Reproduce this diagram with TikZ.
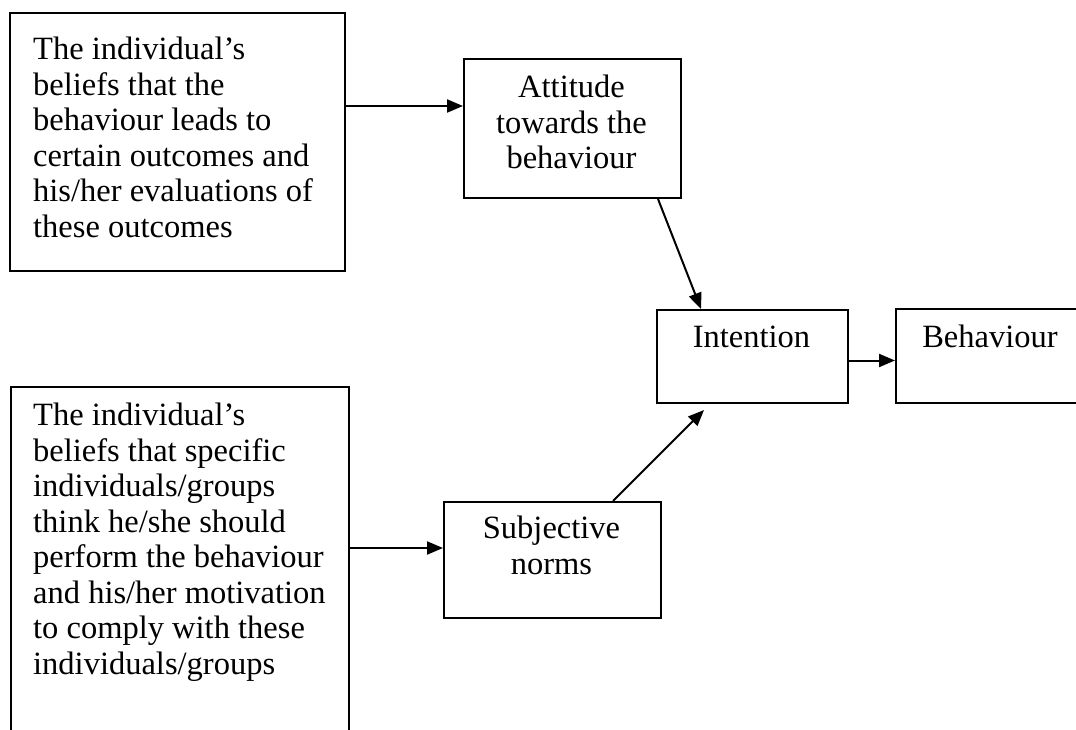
\documentclass[tikz,border=0pt]{standalone}
\usepackage{fontspec}
\setmainfont{Liberation Serif}
\usepackage{tikz}
\usetikzlibrary{arrows.meta}

\newcommand{\diagfont}{\fontsize{32.5}{35.5}\selectfont}

\tikzset{
    box/.style={draw, line width=2pt, anchor=north west, inner sep=0pt},
    txt/.style={inner sep=0pt, font=\diagfont, align=left, anchor=north west},
    ctxt/.style={inner sep=0pt, font=\diagfont, align=center, anchor=north},
    arrow/.style={-{Triangle[length=16pt,width=13pt]}, line width=2pt}
}

\begin{document}
\begin{tikzpicture}[x=1pt, y=-1pt]

    \useasboundingbox (0,0) rectangle (1076,730);

    % boxes
    \node[box, minimum width=335pt, minimum height=258pt] (beliefA) at (9,12) {};
    \node[box, minimum width=217pt, minimum height=139pt] (attitude) at (463,58) {};
    \node[box, minimum width=191pt, minimum height=93pt] (intention) at (656,309) {};
    \node[box, minimum width=182pt, minimum height=94pt] (behaviour) at (895,308) {};
    \node[box, minimum width=338pt, minimum height=370pt] (beliefN) at (10,386) {};
    \node[box, minimum width=217pt, minimum height=116pt] (subjective) at (443,501) {};

    % texts
    \node[txt] (beliefAtxt) at (33,37) {The individual's\\beliefs that the\\behaviour leads to\\certain outcomes and\\his/her evaluations of\\these outcomes};
    \node[ctxt] (attitudetxt) at (571.5,75) {Attitude\\towards the\\behaviour};
    \node[ctxt] (intentiontxt) at (751.5,326) {Intention};
    \node[ctxt] (behaviourtxt) at (990,325) {Behaviour};
    \node[txt] (beliefNtxt) at (33,403) {The individual's\\beliefs that specific\\individuals/groups\\think he/she should\\perform the behaviour\\and his/her motivation\\to comply with these\\individuals/groups};
    \node[ctxt] (subjectivetxt) at (551.5,516) {Subjective\\norms};

    % connectors
    \coordinate (a1) at ([yshift=22.5pt]attitude.west);
    \draw[arrow] (a1 -| beliefA.east) -- (a1);
    \draw[arrow] ([xshift=85.5pt]attitude.south) -- ([xshift=-51.5pt]intention.north);
    \coordinate (a3) at ([yshift=-4pt]intention.east);
    \draw[arrow] (a3) -- (a3 -| behaviour.west);
    \coordinate (a4) at ([yshift=12pt]subjective.west);
    \draw[arrow] (a4 -| beliefN.east) -- (a4);
    \draw[arrow] ([xshift=60.5pt]subjective.north) -- ([xshift=-48.5pt, yshift=-6pt]intention.south);

\end{tikzpicture}
\end{document}
